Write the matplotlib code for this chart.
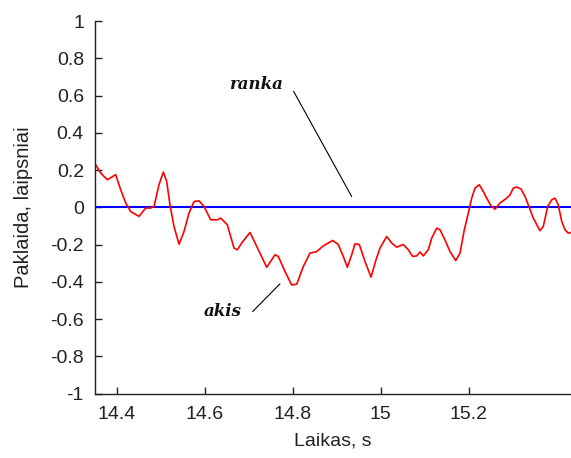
import matplotlib
matplotlib.use("Agg")
import matplotlib.pyplot as plt

# tracking error of the eye (akis) and of the hand (ranka), degrees
times = [14.3523, 14.3636, 14.3786, 14.3977, 14.4091, 14.4205, 14.4318, 14.4507, 14.4659, 14.4773,
         14.4848, 14.4961, 14.5059, 14.5136, 14.5211, 14.5302, 14.5416, 14.5530, 14.5643, 14.5757,
         14.5870, 14.5984, 14.6136, 14.6286, 14.6364, 14.6514, 14.6666, 14.6741, 14.6855, 14.7030,
         14.7218, 14.7409, 14.7598, 14.7673, 14.7825, 14.7977, 14.8091, 14.8241, 14.8393, 14.8545,
         14.8695, 14.8909, 14.9036, 14.9150, 14.9241, 14.9341, 14.9416, 14.9514, 14.9643, 14.9780,
         14.9893, 14.9984, 15.0136, 15.0250, 15.0364, 15.0514, 15.0627, 15.0727, 15.0818, 15.0893,
         15.0968, 15.1082, 15.1159, 15.1273, 15.1348, 15.1461, 15.1575, 15.1705, 15.1802, 15.1900,
         15.1991, 15.2068, 15.2143, 15.2241, 15.2332, 15.2409, 15.2507, 15.2598, 15.2711, 15.2864,
         15.2939, 15.3014, 15.3091, 15.3189, 15.3280, 15.3370, 15.3468, 15.3620, 15.3695, 15.3795,
         15.3886, 15.3961, 15.4036, 15.4114, 15.4189, 15.4264, 15.4325]
akis = [0.228, 0.184, 0.148, 0.175, 0.094, 0.023, -0.023, -0.049, -0.004, -0.004,
        0.004, 0.121, 0.189, 0.139, 0.013, -0.103, -0.198, -0.13, -0.031, 0.031,
        0.035, 0.004, -0.067, -0.067, -0.058, -0.094, -0.219, -0.228, -0.187, -0.135,
        -0.228, -0.322, -0.255, -0.264, -0.345, -0.417, -0.413, -0.318, -0.246, -0.238,
        -0.207, -0.178, -0.2, -0.264, -0.322, -0.255, -0.196, -0.2, -0.291, -0.375,
        -0.282, -0.219, -0.157, -0.192, -0.214, -0.2, -0.228, -0.264, -0.261, -0.24,
        -0.261, -0.228, -0.166, -0.112, -0.121, -0.175, -0.238, -0.286, -0.246, -0.121,
        -0.031, 0.049, 0.103, 0.121, 0.085, 0.049, 0.008, -0.01, 0.023, 0.049,
        0.067, 0.103, 0.109, 0.098, 0.058, 0.004, -0.058, -0.126, -0.103, 0.004,
        0.04, 0.049, 0.013, -0.076, -0.121, -0.139, -0.135]
ranka = [0.0] * len(times)

x_ticks = [14.4, 14.6, 14.8, 15, 15.2]
x_tick_labels = ["14.4", "14.6", "14.8", "15", "15.2"]
y_ticks = [-1, -0.8, -0.6, -0.4, -0.2, 0, 0.2, 0.4, 0.6, 0.8, 1]
y_tick_labels = ["-1", "-0.8", "-0.6", "-0.4", "-0.2", "0", "0.2", "0.4", "0.6", "0.8", "1"]

plt.rcParams["font.family"] = ["Liberation Sans", "DejaVu Sans"]

fig = plt.figure(figsize=(5.71, 4.58), dpi=100)
ax = fig.add_axes([0.1664, 0.1408, 0.8336, 0.8132])

ax.plot(times, ranka, color="#0000ff", linewidth=1.5)
ax.plot(times, akis, color="#ff0000", linewidth=1.2)

ax.set_xlim(14.3507, 15.4325)
ax.set_ylim(-1, 1)
ax.set_xticks(x_ticks)
ax.set_xticklabels(x_tick_labels)
ax.set_yticks(y_ticks)
ax.set_yticklabels(y_tick_labels)
ax.tick_params(direction="in", length=5, width=1, labelsize=14, colors="#222222")
ax.tick_params(axis="x", pad=9)
ax.tick_params(axis="y", pad=8)

for side in ["top", "right"]:
    ax.spines[side].set_visible(False)
for side in ["left", "bottom"]:
    ax.spines[side].set_linewidth(1.0)
    ax.spines[side].set_color("#222222")

ax.set_xlabel("Laikas, s", fontsize=14, labelpad=7, color="#222222")
ax.set_ylabel("Paklaida, laipsniai", fontsize=14.5, labelpad=12, color="#222222")

label_font = dict(family=["DejaVu Serif"], style="italic", weight="bold",
                  fontsize=12, color="#111111")
line_style = dict(arrowstyle="-", color="black", linewidth=0.8, shrinkA=0, shrinkB=0)

ax.text(14.778, 0.659, "ranka", ha="right", va="center", **label_font)
ax.annotate("", xy=(14.934, 0.058), xytext=(14.802, 0.623), arrowprops=line_style)

ax.text(14.684, -0.56, "akis", ha="right", va="center", **label_font)
ax.annotate("", xy=(14.771, -0.411), xytext=(14.709, -0.56), arrowprops=line_style)

fig.savefig("out.png", dpi=100)
